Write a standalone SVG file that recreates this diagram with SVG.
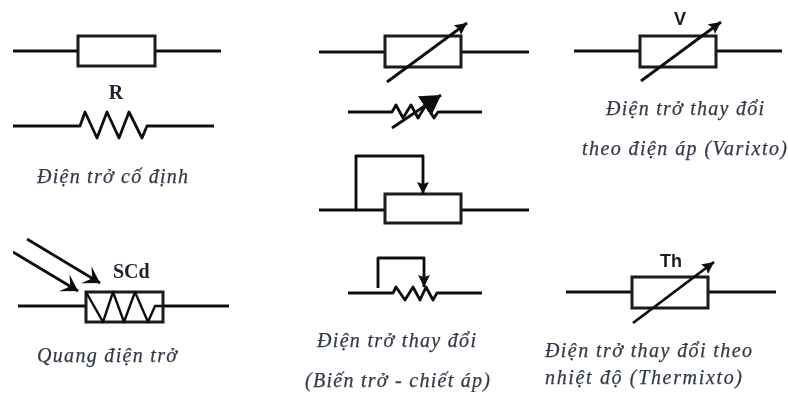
<svg xmlns="http://www.w3.org/2000/svg" width="788" height="394" viewBox="0 0 788 394">
<style>
.w{fill:none;stroke:#111;stroke-width:2.8;stroke-linejoin:round}
.b{fill:#fff;stroke:#1a1a1a;stroke-width:3}
.c{font-family:"Liberation Serif",serif;font-style:italic;font-size:20px;fill:#333a48;stroke:#333a48;stroke-width:.25}
.l{font-family:"Liberation Serif",serif;font-weight:bold;font-size:20px;fill:#1c2230}
.s{font-family:"Liberation Sans",sans-serif;font-weight:bold;font-size:18px;fill:#1c1c1c}
.h{fill:#111;stroke:none}
</style>
<defs>
<filter id="soft" x="0" y="0" width="100%" height="100%"><feGaussianBlur stdDeviation="0.6"/></filter>
<marker id="thin" markerUnits="userSpaceOnUse" markerWidth="16" markerHeight="14" refX="12" refY="6" orient="auto"><path d="M0 0L12 6L0 12L2 6Z" class="h"/></marker>
<marker id="open" markerUnits="userSpaceOnUse" markerWidth="22" markerHeight="24" refX="18" refY="10" orient="auto"><path d="M2 0L18 10L2 20L9 10Z" class="h"/></marker>
<marker id="big" markerUnits="userSpaceOnUse" markerWidth="24" markerHeight="26" refX="20" refY="12" orient="auto"><path d="M0 0L20 12L0 24Z" class="h"/></marker>
</defs>
<rect width="788" height="394" fill="#fff"/>
<g filter="url(#soft)">
<g id="connectors">
<path class="w" d="M13 51H78M155 51H221"/>
<path class="w" d="M13 126H80L85 112L97 138L107 112L119 138L129 112L142 138L147 126H214"/>
<path class="w" d="M18 306H86M163 306H229"/>
<path class="w" d="M319 52H385M461 52H529"/>
<path class="w" d="M348 112H392L396 105L403 118L411 105L418 118L426 105L434 118L438 112H482"/>
<path class="w" d="M319 210H385M461 210H529"/>
<path class="w" d="M348 293H393L396 287L405 300L413 287L420 300L426 287L433 300L437 293H482"/>
<path class="w" d="M574 51H640M716 51H782"/>
<path class="w" d="M566 292H632M708 292H776"/>
</g>
<g id="fixed-box"><rect class="b" x="78" y="36" width="77" height="30"/></g>
<g id="fixed-label"><text class="l" x="116" y="99" text-anchor="middle">R</text>
<text class="c" x="37" y="183" textLength="151">Điện trở cố định</text></g>
<g id="photoresistor">
<rect class="b" x="86" y="292" width="77" height="30"/>
<path class="w" style="stroke-width:2.4" d="M86 292L103 322L113 292L124 322L135 292L148 322L155 306H163"/>
<path class="w" marker-end="url(#open)" d="M27 239L100 283"/>
<path class="w" marker-end="url(#open)" d="M13 252L78 291"/>
<text class="l" x="113" y="278">SCd</text>
<text class="c" x="37" y="362" textLength="140">Quang điện trở</text>
</g>
<g id="variable-box"><rect class="b" x="385" y="36" width="76" height="31"/>
<path class="w" marker-end="url(#thin)" d="M387 82L467 23"/></g>
<g id="variable-zigzag"><path class="w" marker-end="url(#big)" d="M392 128L441 95"/></g>
<g id="rheostat-box"><rect class="b" x="385" y="194" width="76" height="29"/>
<path class="w" marker-end="url(#thin)" d="M356 210V156H423V194"/></g>
<g id="rheostat-zigzag"><path class="w" marker-end="url(#thin)" d="M378 288V258H424V287"/>
<text class="c" x="317" y="347" textLength="159">Điện trở thay đổi</text>
<text class="c" x="305" y="387" textLength="185">(Biến trở - chiết áp)</text></g>
<g id="varistor"><rect class="b" x="640" y="36" width="76" height="31"/>
<path class="w" marker-end="url(#thin)" d="M641 81L721 22"/>
<text class="s" x="680" y="25" text-anchor="middle">V</text>
<text class="c" x="606" y="115" textLength="158">Điện trở thay đổi</text>
<text class="c" x="582" y="155" textLength="205">theo điện áp (Varixto)</text></g>
<g id="thermistor"><rect class="b" x="632" y="277" width="76" height="31"/>
<path class="w" marker-end="url(#thin)" d="M633 323L714 262"/>
<text class="s" x="660" y="267">Th</text>
<text class="c" x="545" y="357" textLength="207">Điện trở thay đổi theo</text>
<text class="c" x="545" y="384" textLength="197">nhiệt độ (Thermixto)</text></g>
</g>
</svg>
